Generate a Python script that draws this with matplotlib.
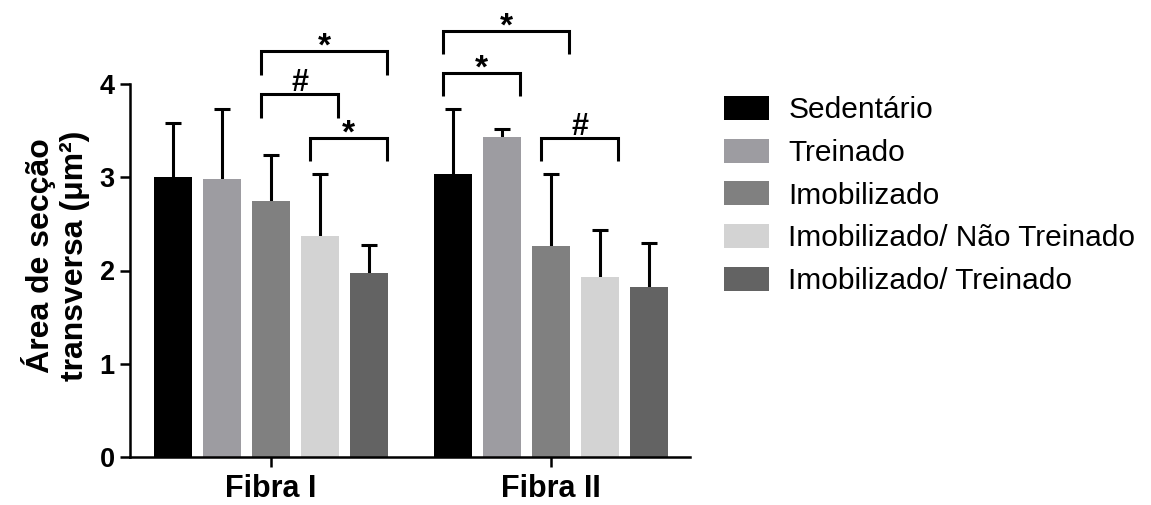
import matplotlib as mpl
mpl.use("Agg")
import matplotlib.pyplot as plt
import numpy as np

mpl.rcParams['font.family'] = ['Liberation Sans', 'DejaVu Sans']

# data
groups = ["Fibra I", "Fibra II"]
series = ["Sedentário", "Treinado", "Imobilizado",
          "Imobilizado/ Não Treinado", "Imobilizado/ Treinado"]
colors = ["#000000", "#9d9ca1", "#808080", "#d3d3d3", "#636363"]

means = {
    "Fibra I":  [3.00, 2.98, 2.74, 2.37, 1.97],
    "Fibra II": [3.04, 3.43, 2.26, 1.93, 1.82],
}
upper = {  # top of error bar (mean + SD)
    "Fibra I":  [3.58, 3.73, 3.24, 3.03, 2.27],
    "Fibra II": [3.73, 3.52, 3.03, 2.43, 2.30],
}

# significance brackets: (group index, first bar, last bar, height, label)
brackets = [
    (0, 2, 4, 4.35, "*"),
    (0, 2, 3, 3.89, "#"),
    (0, 3, 4, 3.42, "*"),
    (1, 0, 2, 4.57, "*"),
    (1, 0, 1, 4.12, "*"),
    (1, 2, 3, 3.42, "#"),
]

fig = plt.figure(figsize=(11.51, 5.05), dpi=100)
W, H = 1151, 505
ax = fig.add_axes([130 / W, (H - 457) / H, 560 / W, (457 - 84) / H])

pitch = 0.175
width = 0.136
x = np.arange(len(groups))
offsets = (np.arange(len(series)) - 2) * pitch

for i, name in enumerate(series):
    m = np.array([means[g][i] for g in groups])
    u = np.array([upper[g][i] for g in groups])
    ax.bar(x + offsets[i], m, width, color=colors[i], label=name, zorder=2)
    eb = ax.errorbar(x + offsets[i], m, yerr=[np.zeros_like(m), u - m], fmt="none",
                     ecolor="black", elinewidth=2.2, capsize=6, capthick=2.2, zorder=1)
    eb[1][0].set_visible(False)  # only the upper cap

leg_drop = 0.25
for g, a, b, y, lab in brackets:
    x0 = x[g] + offsets[a] - 0.035
    x1 = x[g] + offsets[b] + 0.065
    ax.plot([x0, x0, x1, x1], [y - leg_drop, y, y, y - leg_drop], color="black",
            lw=2.2, clip_on=False, solid_capstyle="butt", solid_joinstyle="miter")
    if lab == "*":
        ax.text((x0 + x1) / 2, y - 0.05, lab, ha="center", va="baseline",
                fontsize=24, fontweight="bold", clip_on=False)
    else:
        ax.text((x0 + x1) / 2, y + 0.03, lab, ha="center", va="baseline",
                fontsize=22, fontweight="bold", clip_on=False)

ax.set_xlim(-0.504, 1.496)
ax.set_ylim(0, 4)
ax.set_yticks([0, 1, 2, 3, 4])
ax.set_xticks(x)
ax.set_xticklabels(groups, fontsize=22, fontweight="bold")
for t in ax.get_yticklabels():
    t.set_fontsize(19.5)
    t.set_fontweight("bold")
ax.tick_params(axis="both", width=1.8, length=7, direction="out", pad=4)
ax.tick_params(axis="x", pad=5)
for s in ["top", "right"]:
    ax.spines[s].set_visible(False)
for s in ["left", "bottom"]:
    ax.spines[s].set_linewidth(1.8)

ax.set_ylabel("Área de secção\ntransversa (μm²)", fontsize=23,
              fontweight="bold", linespacing=1.15)
ax.yaxis.set_label_coords(-0.072, 0.539)

fig.legend(loc="upper left", bbox_to_anchor=(724 / W, 1 - 96 / H), frameon=False,
           fontsize=21.5, handlelength=1.5, handleheight=0.86, handletextpad=0.66,
           labelspacing=0.48, borderaxespad=0, borderpad=0)

fig.savefig("out.png", dpi=100)
